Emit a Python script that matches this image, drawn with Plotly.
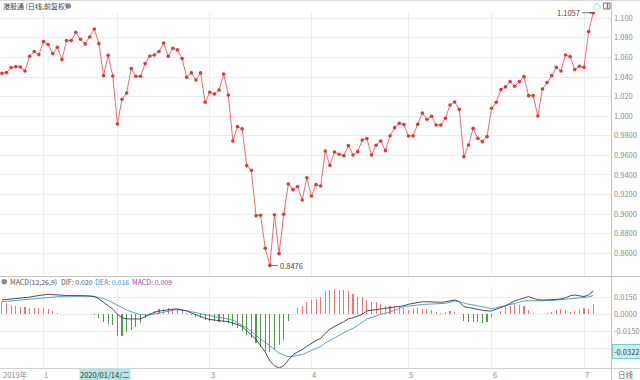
import plotly.graph_objects as go

# ---------------- data ----------------
price = [
    1.0438, 1.0445, 1.0496, 1.0506, 1.0503, 1.0462, 1.0612, 1.0660, 1.0629,
    1.0762, 1.0731, 1.0639, 1.0704, 1.0578, 1.0772, 1.0772, 1.0857, 1.0785,
    1.0738, 1.0809, 1.0891, 1.0741, 1.0414, 1.0622, 1.0411,
    0.9921, 1.0173, 1.0237, 1.0486, 1.0408, 1.0408, 1.0537, 1.0615, 1.0625,
    1.0660, 1.0748, 1.0612, 1.0694, 1.0677, 1.0588, 1.0397, 1.0442, 1.0370,
    1.0442, 1.0142,
    1.0244, 1.0227, 1.0268, 1.0431, 1.0217, 0.9747, 0.9893, 0.9870, 0.9495,
    0.9447, 0.8984, 0.8988, 0.8651, 0.8476, 0.8994, 0.8596, 0.8998, 0.9308,
    0.9250, 0.9281, 0.9144, 0.9372,
    0.9185, 0.9301, 0.9287, 0.9645, 0.9498, 0.9635, 0.9611, 0.9597, 0.9699,
    0.9604, 0.9638, 0.9757, 0.9771, 0.9604, 0.9703, 0.9747, 0.9648, 0.9801,
    0.9883, 0.9927, 0.9914,
    0.9798, 0.9801, 0.9917, 1.0033, 0.9968, 0.9999, 0.9910, 0.9910, 0.9979,
    1.0115, 1.0145, 1.0070, 0.9587, 0.9706, 0.9876, 0.9774, 0.9740, 0.9791,
    1.0081, 1.0142, 1.0271, 1.0299, 1.0353, 1.0305, 1.0353, 1.0404, 1.0210,
    1.0210, 1.0002, 1.0278, 1.0343, 1.0414, 1.0499, 1.0462, 1.0625, 1.0608,
    1.0476, 1.0510,
    1.0499, 1.0864, 1.1057,
]

dif = [
    0.0126, 0.0130, 0.0134, 0.0137, 0.0139, 0.0142, 0.0150, 0.0158, 0.0165,
    0.0172, 0.0175, 0.0172, 0.0168, 0.0166, 0.0165, 0.0164, 0.0165, 0.0164,
    0.0162, 0.0160, 0.0155, 0.0135, 0.0105, 0.0075, 0.0045, 0.0000, -0.0030,
    -0.0040, -0.0042, -0.0043, -0.0041, -0.0020, 0.0000, 0.0018, 0.0028,
    0.0035, 0.0040, 0.0045, 0.0047, 0.0040, 0.0030, 0.0012, -0.0005, -0.0020,
    -0.0035, -0.0045, -0.0052, -0.0058, -0.0060, -0.0064, -0.0075, -0.0090,
    -0.0108, -0.0140, -0.0180, -0.0220, -0.0270, -0.0330, -0.0410, -0.0450,
    -0.0470, -0.0450, -0.0400, -0.0356, -0.0330, -0.0310, -0.0280, -0.0254,
    -0.0230, -0.0210, -0.0165, -0.0130, -0.0105, -0.0085, -0.0065, -0.0040,
    -0.0030, -0.0015, 0.0000, 0.0030, 0.0035, 0.0040, 0.0047, 0.0050, 0.0055,
    0.0064, 0.0070, 0.0075, 0.0088, 0.0095, 0.0105, 0.0110, 0.0110, 0.0108,
    0.0105, 0.0105, 0.0110, 0.0120, 0.0126, 0.0110, 0.0067, 0.0060, 0.0050,
    0.0045, 0.0035, 0.0030, 0.0029, 0.0045, 0.0058, 0.0075, 0.0095, 0.0117,
    0.0130, 0.0145, 0.0155, 0.0140, 0.0128, 0.0125, 0.0126, 0.0126, 0.0130,
    0.0135, 0.0145, 0.0162, 0.0169, 0.0162, 0.0155, 0.0170, 0.0204,
]

dea = [
    0.0110, 0.0114, 0.0118, 0.0122, 0.0126, 0.0130, 0.0134, 0.0138, 0.0143,
    0.0147, 0.0150, 0.0153, 0.0155, 0.0157, 0.0158, 0.0159, 0.0160, 0.0160,
    0.0160, 0.0159, 0.0157, 0.0150, 0.0138, 0.0122, 0.0100, 0.0080, 0.0058,
    0.0038, 0.0022, 0.0008, -0.0002, -0.0006, -0.0005, 0.0002, 0.0010,
    0.0020, 0.0028, 0.0035, 0.0040, 0.0038, 0.0032, 0.0023, 0.0014, 0.0004,
    -0.0006, -0.0014, -0.0022, -0.0028, -0.0033, -0.0040, -0.0052, -0.0075,
    -0.0095, -0.0120, -0.0150, -0.0185, -0.0215, -0.0245, -0.0275, -0.0305,
    -0.0340, -0.0358, -0.0370, -0.0368, -0.0360, -0.0352, -0.0335, -0.0315,
    -0.0298, -0.0283, -0.0250, -0.0228, -0.0205, -0.0185, -0.0165, -0.0140,
    -0.0123, -0.0098, -0.0070, -0.0040, -0.0030, -0.0015, 0.0000, 0.0009,
    0.0020, 0.0035, 0.0050, 0.0067, 0.0072, 0.0078, 0.0083, 0.0086, 0.0088,
    0.0090, 0.0092, 0.0094, 0.0096, 0.0105, 0.0117, 0.0110, 0.0096, 0.0088,
    0.0082, 0.0076, 0.0068, 0.0058, 0.0047, 0.0055, 0.0065, 0.0076, 0.0085,
    0.0095, 0.0105, 0.0117, 0.0118, 0.0118, 0.0117, 0.0117, 0.0117, 0.0120,
    0.0124, 0.0128, 0.0134, 0.0138, 0.0142, 0.0144, 0.0146, 0.0152, 0.0164,
]

macd = [
    0.0110, 0.0095, 0.0085, 0.0075, 0.0060, 0.0060, 0.0055, 0.0055, 0.0055,
    0.0055, 0.0050, 0.0030, 0.0015, 0.0003, 0.0003, 0.0002, 0.0003, 0.0002,
    0.0002, 0.0001, -0.0005, -0.0035, -0.0070, -0.0088, -0.0093, -0.0187,
    -0.0187, -0.0152, -0.0137, -0.0108, -0.0079, -0.0035, 0.0010, 0.0030,
    0.0045, 0.0050, 0.0052, 0.0050, 0.0045, 0.0035, 0.0012, -0.0010, -0.0025,
    -0.0035, -0.0050, -0.0058, -0.0060, -0.0065, -0.0070, -0.0080, -0.0100,
    -0.0120, -0.0150, -0.0180, -0.0210, -0.0250, -0.0285, -0.0320, -0.0330,
    -0.0300, -0.0265, -0.0225, -0.0060, 0.0005, 0.0053, 0.0073, 0.0110,
    0.0125, 0.0135, 0.0155, 0.0204, 0.0216, 0.0222, 0.0216, 0.0213, 0.0204,
    0.0175, 0.0155, 0.0155, 0.0126, 0.0111, 0.0105, 0.0088, 0.0076, 0.0076,
    0.0076, 0.0067, 0.0058, 0.0038, 0.0047, 0.0053, 0.0047, 0.0047, 0.0038,
    0.0023, 0.0012, 0.0018, 0.0029, 0.0023, 0.0006, -0.0058, -0.0070, -0.0064,
    -0.0070, -0.0079, -0.0064, -0.0020, 0.0005, 0.0030, 0.0067, 0.0076,
    0.0088, 0.0082, 0.0076, 0.0038, 0.0012, 0.0002, 0.0002, 0.0010, 0.0023,
    0.0040, 0.0047, 0.0038, 0.0023, 0.0029, 0.0047, 0.0053, 0.0050, 0.0090,
]

month_index = [9, 25, 45, 67, 88, 106, 126]          # first trading day of Jan..Jul
month_labels = ["1", "", "3", "4", "5", "6", "7"]     # "2" hidden under cursor label
price_ticks = [0.86, 0.88, 0.90, 0.92, 0.94, 0.96, 0.98,
               1.00, 1.02, 1.04, 1.06, 1.08, 1.10]
price_tick_text = ["0.8600", "0.8800", "0.9000", "0.9200", "0.9400", "0.9600",
                   "0.9800", "1.000", "1.020", "1.040", "1.060", "1.080", "1.100"]
macd_ticks = [0.015, 0.0, -0.015, -0.030]
macd_tick_text = ["0.0150", "0.0000", "-0.0150", ""]
title_text = "港股通 (日线,前复权)"
cursor_date = "2020/01/14/二"
cursor_value = -0.0322

# ---------------- layout helpers ----------------
W, H = 640, 380
def px(x):
    return x / W
def py(y):
    return 1 - y / H

n = len(price)
idx = list(range(n))
FONT = "Noto Sans CJK SC, Noto Sans, sans-serif"
RIGHT = 611

fig = go.Figure()
fig.add_trace(go.Scatter(
    x=idx, y=price, mode="lines+markers", xaxis="x", yaxis="y",
    line=dict(color="#ee5a5a", width=0.9),
    marker=dict(color="#e03838", size=3.6),
    hoverinfo="skip"))

bar_colors = ["#f07676" if v >= 0 else "#4f9d45" for v in macd]
fig.add_trace(go.Bar(
    x=idx, y=macd, xaxis="x2", yaxis="y2", width=0.24,
    marker=dict(color=bar_colors, line=dict(width=0)), hoverinfo="skip"))
fig.add_trace(go.Scatter(
    x=idx, y=dea, mode="lines", xaxis="x2", yaxis="y2",
    line=dict(color="#4b92d6", width=0.9), hoverinfo="skip"))
fig.add_trace(go.Scatter(
    x=idx, y=dif, mode="lines", xaxis="x2", yaxis="y2",
    line=dict(color="#3a3a3a", width=0.9), hoverinfo="skip"))

xr = [-0.41, 131.84]
xcommon = dict(range=xr, tickmode="array", tickvals=month_index,
               showticklabels=False, ticks="", showgrid=True,
               gridcolor="#ededed", gridwidth=1, zeroline=False,
               showline=False, domain=[0, px(RIGHT)])
fig.update_layout(
    width=W, height=H, margin=dict(l=0, r=0, t=0, b=0),
    paper_bgcolor="white", plot_bgcolor="white", showlegend=False,
    bargap=0, hovermode=False,
    font=dict(family=FONT, size=8, color="#888"),
    xaxis=dict(anchor="y", **xcommon),
    xaxis2=dict(anchor="y2", **xcommon),
    yaxis=dict(domain=[py(276), py(12)], range=[0.8368, 1.1064],
               side="right", anchor="x", tickmode="array",
               tickvals=price_ticks, ticktext=price_tick_text,
               ticks="", showgrid=True, gridcolor="#ededed", zeroline=False,
               ticklabelstandoff=2,
               tickfont=dict(size=7.5, color="#8a8a8a")),
    yaxis2=dict(domain=[py(368), py(287)], range=[-0.0470, 0.0239],
                side="right", anchor="x2", tickmode="array",
                tickvals=macd_ticks, ticktext=macd_tick_text,
                ticks="", showgrid=True, gridcolor="#ededed", zeroline=False,
                ticklabelstandoff=2,
                tickfont=dict(size=7.5, color="#8a8a8a")),
)

shapes = [
    dict(type="line", xref="paper", yref="paper", x0=0, x1=1, y0=py(0.5), y1=py(0.5),
         line=dict(color="#d8d8d8", width=1)),
    dict(type="line", xref="paper", yref="paper", x0=0, x1=1, y0=py(276.5), y1=py(276.5),
         line=dict(color="#c4c4c4", width=1)),
    dict(type="line", xref="paper", yref="paper", x0=0, x1=1, y0=py(368.5), y1=py(368.5),
         line=dict(color="#d0d0d0", width=1)),
    dict(type="line", xref="paper", yref="paper", x0=px(RIGHT + 0.5), x1=px(RIGHT + 0.5),
         y0=0, y1=py(2), line=dict(color="#c4c4c4", width=1)),
    # small grey round icons
    dict(type="circle", xref="paper", yref="paper", x0=px(65.5), x1=px(71),
         y0=py(3.3), y1=py(8.8), fillcolor="#8a8a8a", line=dict(width=0)),
    dict(type="circle", xref="paper", yref="paper", x0=px(1.5), x1=px(7),
         y0=py(279), y1=py(284.5), fillcolor="#8a8a8a", line=dict(width=0)),
    # window icon top right
    dict(type="rect", xref="paper", yref="paper", x0=px(603.5), x1=px(610),
         y0=py(3), y1=py(9), line=dict(color="#777", width=1)),
    dict(type="line", xref="paper", yref="paper", x0=px(607.5), x1=px(607.5),
         y0=py(3), y1=py(9), line=dict(color="#777", width=1.5)),
]
fig.update_layout(shapes=shapes)

ann = []
def text_at(x, y, t, color="#555", size=7.5, xanchor="left", **kw):
    ann.append(dict(xref="paper", yref="paper", x=px(x), y=py(y), text=t,
                    showarrow=False, xanchor=xanchor, yanchor="middle",
                    font=dict(family=FONT, size=size, color=color), **kw))

text_at(1, 6, title_text, color="#444", size=7)
text_at(591, 6, "◇", color="#777", size=8)
text_at(8, 282, "MACD(12,26,9)", color="#555", size=7)
text_at(59, 282, "DIF: 0.020", color="#555", size=7)
text_at(93, 282, "DEA: 0.016", color="#3b8fe0", size=7)
text_at(130, 282, "MACD: 0.009", color="#9c3fa8", size=7)

# bottom axis labels
text_at(1, 374.5, "2019年", color="#8a8a8a")
for mi, lab in zip(month_index, month_labels):
    if lab:
        ann.append(dict(xref="x2", yref="paper", x=mi, y=py(374.5), text=lab,
                        showarrow=False, xanchor="left", yanchor="middle", xshift=-1,
                        font=dict(family=FONT, size=7.5, color="#8a8a8a")))
text_at(79, 374.5, cursor_date, color="#333", bgcolor="#b4e6e6", borderpad=0)
text_at(616, 374.5, "日线", color="#666")

# value markers
last = n - 1
lo = min(range(n), key=lambda i: price[i])
ann.append(dict(xref="x", yref="y", x=last, y=price[last], text=f"{price[last]:.4f}",
                showarrow=True, arrowhead=2, arrowsize=0.6, arrowwidth=0.8,
                arrowcolor="#555", ax=-11, ay=0, xanchor="right", yanchor="middle",
                standoff=1, font=dict(family=FONT, size=7.5, color="#444")))
ann.append(dict(xref="x", yref="y", x=lo, y=price[lo], text=f"{price[lo]:.4f}",
                showarrow=True, arrowhead=0, arrowwidth=0.8, arrowcolor="#555",
                ax=8, ay=0, xanchor="left", yanchor="middle",
                font=dict(family=FONT, size=7.5, color="#444")))
ann.append(dict(xref="paper", yref="y2", x=px(RIGHT + 1), y=cursor_value,
                text=f"{cursor_value:.4f}", showarrow=False, xanchor="left",
                yanchor="middle", bgcolor="#c8eeee", bordercolor="#79c9c9",
                borderwidth=1, borderpad=1,
                font=dict(family=FONT, size=7.5, color="#444")))
fig.update_layout(annotations=ann)

fig.write_html("out.html", config={"displayModeBar": False, "staticPlot": True},
               post_script="document.body.style.margin='0';document.body.style.padding='0';")
